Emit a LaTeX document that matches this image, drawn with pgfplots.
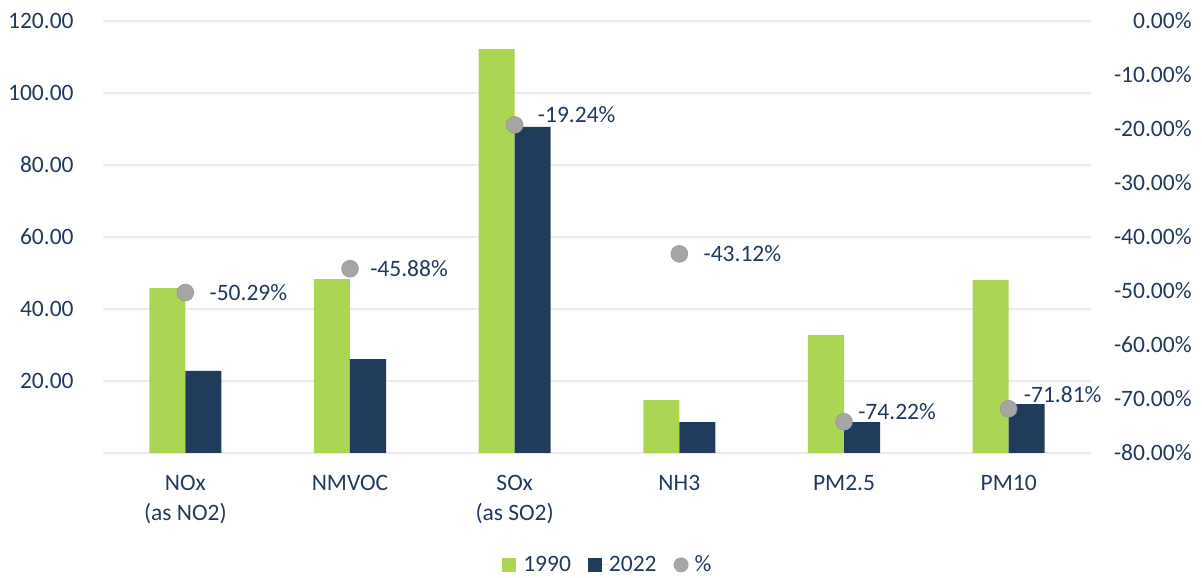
\documentclass[border=0pt]{standalone}
\usepackage{pgfplots}
\pgfplotsset{compat=1.18}
\usepackage{pgfplotstable}
\usepackage{fontspec}
\setmainfont{Carlito}
\definecolor{txtblue}{HTML}{203A5C}
\definecolor{limegreen}{HTML}{ABD654}
\definecolor{navybar}{HTML}{1F3C5C}
\definecolor{dotgray}{HTML}{A6A6A6}
\definecolor{gridgray}{HTML}{EBEBEB}

\pgfplotstableread{
x y1990 y2022
0 45.8 22.8
1 48.3 26.1
2 112.2 90.6
3 14.7 8.6
4 32.8 8.6
5 48.1 13.6
}\emtable

% dx, dy: label offsets in bp
\pgfplotstableread{
x pct dx dy
0 -50.29 12 0
1 -45.88 10 0
2 -19.24 11.5 5
3 -43.12 12 0
4 -74.22 7 5
5 -71.81 7.5 7
}\pcttable

\pgfplotsset{
  baseaxis/.style={
    scale only axis, width=494bp, height=216bp,
    xmin=-0.5, xmax=5.5,
    font=\fontsize{11.75bp}{15bp}\selectfont,
    tick label style={text=txtblue, inner sep=0pt},
    major tick length=0pt,
    axis line style={draw=none},
    /pgf/number format/assume math mode=true,
  },
}

\begin{document}
\begin{tikzpicture}
\begin{axis}[
  baseaxis,
  ymin=0, ymax=120,
  ybar=0pt, bar width=0.219,
  ytick={0,20,...,120},
  yticklabels={,20.00,40.00,60.00,80.00,100.00,120.00},
  yticklabel style={anchor=east, xshift=-14.5bp},
  ymajorgrids, grid style={gridgray, line width=1.3bp},
  xtick={0,...,5},
  xticklabels={{NOx\\(as NO2)},NMVOC,{SOx\\(as SO2)},NH3,PM2.5,PM10},
  xticklabel style={align=center, anchor=north, yshift=-11bp},
  legend columns=-1,
  legend cell align=left,
  legend style={at={(0.51,-0.259)}, anchor=center, draw=none, fill=none,
    font=\fontsize{11.75bp}{15bp}\selectfont, text=txtblue,
    /tikz/every even column/.append style={column sep=8.5bp},
    nodes={inner sep=0pt, text=txtblue}},
  legend image code/.code={\fill[#1] (0bp,-3.5bp) rectangle (7bp,3.5bp); \path[draw=none] (0bp,0bp) -- (10.5bp,0bp);},
]
\addplot[draw=none, fill=limegreen] table[x=x, y=y1990] {\emtable};
\addlegendentry{1990}
\addplot[draw=none, fill=navybar] table[x=x, y=y2022] {\emtable};
\addlegendentry{2022}
\addlegendimage{legend image code/.code={\fill[dotgray, draw=none] (3.75bp,0bp) circle (3.75bp); \path[draw=none] (0bp,0bp) -- (10.5bp,0bp);}}
\addlegendentry{\%}
\end{axis}

\begin{axis}[
  baseaxis,
  axis y line*=right, axis x line=none,
  ymin=-80, ymax=0,
  ytick={-80,-70,...,0},
  yticklabels={-80.00\%,-70.00\%,-60.00\%,-50.00\%,-40.00\%,-30.00\%,-20.00\%,-10.00\%,0.00\%},
  yticklabel style={anchor=east, xshift=50.5bp},
]
\addplot[only marks, mark=*, mark size=4.2bp,
  mark options={fill=dotgray, draw=dotgray!90!black, line width=0.3bp},
  point meta=explicit,
  visualization depends on={\thisrow{dx} \as \dx},
  visualization depends on={\thisrow{dy} \as \dy},
  nodes near coords={\pgfmathprintnumber[fixed, fixed zerofill, precision=2, assume math mode=true]{\pgfplotspointmeta}\%},
  nodes near coords style={anchor=west, inner sep=0pt, text=txtblue,
    xshift=\dx bp, yshift=\dy bp,
    font=\fontsize{11.75bp}{15bp}\selectfont},
] table[x=x, y=pct, meta=pct] {\pcttable};
\end{axis}

\pgfresetboundingbox
\path[use as bounding box] (-51.5bp,-62.5bp) rectangle (549.5bp,226.5bp);
\end{tikzpicture}
\end{document}
